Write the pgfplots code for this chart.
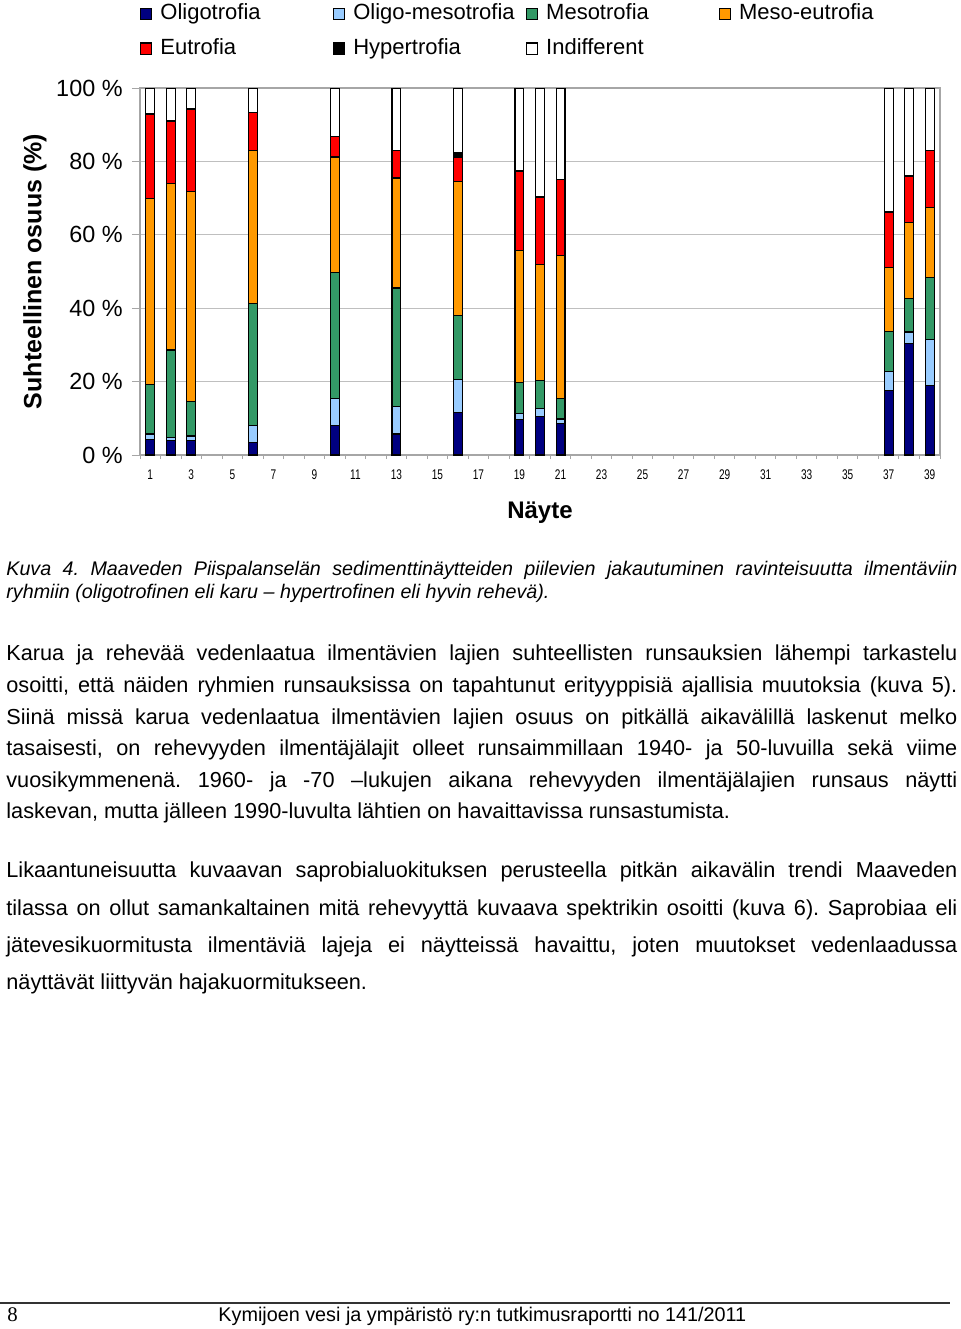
\documentclass[border=0pt]{standalone}
\usepackage{fontspec}
\setmainfont{Liberation Sans}
\newfontfamily\seriffont{Liberation Serif}
\newfontfamily\narrowfont[FakeStretch=0.72]{Liberation Sans}
\usepackage{pgfplots}
\pgfplotsset{compat=1.18}
\usepackage{pgfplotstable}

\definecolor{cOli}{RGB}{0,0,128}
\definecolor{cOM}{RGB}{153,204,255}
\definecolor{cMeso}{RGB}{51,153,102}
\definecolor{cME}{RGB}{255,153,0}
\definecolor{cEu}{RGB}{255,0,0}
\definecolor{cHyp}{RGB}{0,0,0}
\definecolor{cInd}{RGB}{255,255,255}

\pgfplotstableread{
x  oli  om   meso me   eu   hyp ind
1  4.3  1.4  13.6 50.6 23.0 0   7.1
2  3.9  0.9  23.8 45.4 17.0 0   9.0
3  3.9  1.3  9.3  57.2 22.6 0   5.7
6  3.3  4.7  33.2 41.8 10.4 0   6.6
10 8.0  7.4  34.3 31.5 5.6  0   13.2
13 5.7  7.5  32.3 30.0 7.5  0   17.0
16 11.6 9.0  17.5 36.5 6.6  1.1 17.7
19 9.6  1.7  8.4  36.0 21.7 0   22.6
20 10.4 2.3  7.5  31.8 18.3 0   29.7
21 8.6  1.2  5.6  38.9 20.8 0   24.9
37 17.5 5.3  10.9 17.4 15.1 0   33.8
38 30.3 3.2  9.1  20.7 12.7 0   24.0
39 19.0 12.5 16.9 19.1 15.5 0   17.0
}\data

\begin{document}
\frenchspacing
\begin{tikzpicture}
\path[use as bounding box] (0,0) rectangle (480pt,-664.5pt);
\begin{axis}[
  at={(70pt,-227.5pt)}, anchor=south west,
  scale only axis, width=400pt, height=183.5pt,
  ybar stacked, bar width=4.4pt,
  xmin=0.5, xmax=39.5, ymin=0, ymax=100,
  xtick={1,3,...,39},
  minor xtick={0.5,1.5,...,39.5},
  ytick={0,20,...,100},
  xtick pos=bottom, ytick pos=left,
  tick align=outside,
  major tick length=4pt, minor tick length=2pt,
  major x tick style={draw=none},
  tick style={draw=gray!70, line width=0.5pt},
  ymajorgrids, major grid style={draw=gray!50, line width=0.6pt},
  axis line style={draw=gray!70, line width=0.6pt},
  /pgf/number format/assume math mode=true,
  yticklabel={\pgfmathprintnumber{\tick}~\%},
  yticklabel style={font=\fontsize{11.7}{13}\selectfont, anchor=east, inner sep=0pt, xshift=-4.5pt},
  xticklabel style={font=\fontsize{7}{8}\narrowfont, anchor=center, yshift=-6pt, inner sep=0pt},
  xlabel={Näyte},
  ylabel={Suhteellinen osuus (\%)},
  xlabel style={font=\fontsize{12}{14}\selectfont\bfseries, at={(axis description cs:0.5,-0.1581)}, anchor=center},
  ylabel style={font=\fontsize{12.5}{14}\selectfont\bfseries, at={(axis description cs:-0.13125,0.5)}, anchor=center, rotate=0},
  legend columns=4,
  legend cell align=left,
  legend style={at={(axis description cs:0,1)}, anchor=south west, yshift=14.5pt,
    draw=none, fill=none, inner sep=0pt, outer sep=0pt, row sep=7pt,
    font=\fontsize{11}{13}\selectfont,
    nodes={inner sep=0pt, text height=8pt, text depth=2.4pt},
    /tikz/every odd column/.append style={column sep=4pt}},
  every axis plot post/.append style={legend image code/.code={\draw[##1, draw=black, line width=0.6pt] (0pt,-2.8pt) rectangle (5.6pt,2.8pt);}},
]
\addplot[fill=cOli, draw=black, line width=0.6pt] table[x=x, y=oli]{\data};
\addplot[fill=cOM, draw=black, line width=0.6pt] table[x=x, y=om]{\data};
\addplot[fill=cMeso, draw=black, line width=0.6pt] table[x=x, y=meso]{\data};
\addplot[fill=cME, draw=black, line width=0.6pt] table[x=x, y=me]{\data};
\addplot[fill=cEu, draw=black, line width=0.6pt] table[x=x, y=eu]{\data};
\addplot[fill=cHyp, draw=black, line width=0.6pt] table[x=x, y=hyp]{\data};
\addplot[fill=cInd, draw=black, line width=0.6pt] table[x=x, y=ind]{\data};
\legend{\makebox[86.25pt][l]{Oligotrofia}, \makebox[86.25pt][l]{Oligo-mesotrofia}, \makebox[86.25pt][l]{Mesotrofia}, \makebox[86.25pt][l]{Meso-eutrofia}, \makebox[86.25pt][l]{Eutrofia}, \makebox[86.25pt][l]{Hypertrofia}, \makebox[86.25pt][l]{Indifferent}}
\end{axis}

% caption
\begin{scope}[every node/.style={anchor=base west, inner sep=0pt, font=\fontsize{9.85}{11}\selectfont\itshape}]
\node at (3pt,-287.5pt) {\makebox[475.5pt][s]{Kuva 4. Maaveden Piispalanselän sedimenttinäytteiden piilevien jakautuminen ravinteisuutta ilmentäviin}};
\node at (3pt,-299pt) {ryhmiin (oligotrofinen eli karu – hypertrofinen eli hyvin rehevä).};
\end{scope}

% paragraph 1
\begin{scope}[every node/.style={anchor=base west, inner sep=0pt, font=\fontsize{10.85}{13}\selectfont}]
\node at (3pt,-330pt) {\makebox[475.5pt][s]{Karua ja rehevää vedenlaatua ilmentävien lajien suhteellisten runsauksien lähempi tarkastelu}};
\node at (3pt,-346pt) {\makebox[475.5pt][s]{osoitti, että näiden ryhmien runsauksissa on tapahtunut erityyppisiä ajallisia muutoksia (kuva 5).}};
\node at (3pt,-362pt) {\makebox[475.5pt][s]{Siinä missä karua vedenlaatua ilmentävien lajien osuus on pitkällä aikavälillä laskenut melko}};
\node at (3pt,-377.5pt) {\makebox[475.5pt][s]{tasaisesti, on rehevyyden ilmentäjälajit olleet runsaimmillaan 1940- ja 50-luvuilla sekä viime}};
\node at (3pt,-393.5pt) {\makebox[475.5pt][s]{vuosikymmenenä. 1960- ja -70 –lukujen aikana rehevyyden ilmentäjälajien runsaus näytti}};
\node at (3pt,-409pt) {laskevan, mutta jälleen 1990-luvulta lähtien on havaittavissa runsastumista.};
% paragraph 2
\node at (3pt,-438.5pt) {\makebox[475.5pt][s]{Likaantuneisuutta kuvaavan saprobialuokituksen perusteella pitkän aikavälin trendi Maaveden}};
\node at (3pt,-457.5pt) {\makebox[475.5pt][s]{tilassa on ollut samankaltainen mitä rehevyyttä kuvaava spektrikin osoitti (kuva 6). Saprobiaa eli}};
\node at (3pt,-476pt) {\makebox[475.5pt][s]{jätevesikuormitusta ilmentäviä lajeja ei näytteissä havaittu, joten muutokset vedenlaadussa}};
\node at (3pt,-494.5pt) {näyttävät liittyvän hajakuormitukseen.};
\end{scope}

% footer
\draw[line width=0.75pt, draw=black!80] (0pt,-651.5pt) -- (475pt,-651.5pt);
\node[anchor=base west, inner sep=0pt, font=\fontsize{10.4}{12}\seriffont] at (3.5pt,-660.5pt) {8};
\node[anchor=base west, inner sep=0pt, font=\fontsize{9.9}{11}\selectfont] at (109pt,-660.5pt) {Kymijoen vesi ja ympäristö ry:n tutkimusraportti no 141/2011};
\end{tikzpicture}
\end{document}
